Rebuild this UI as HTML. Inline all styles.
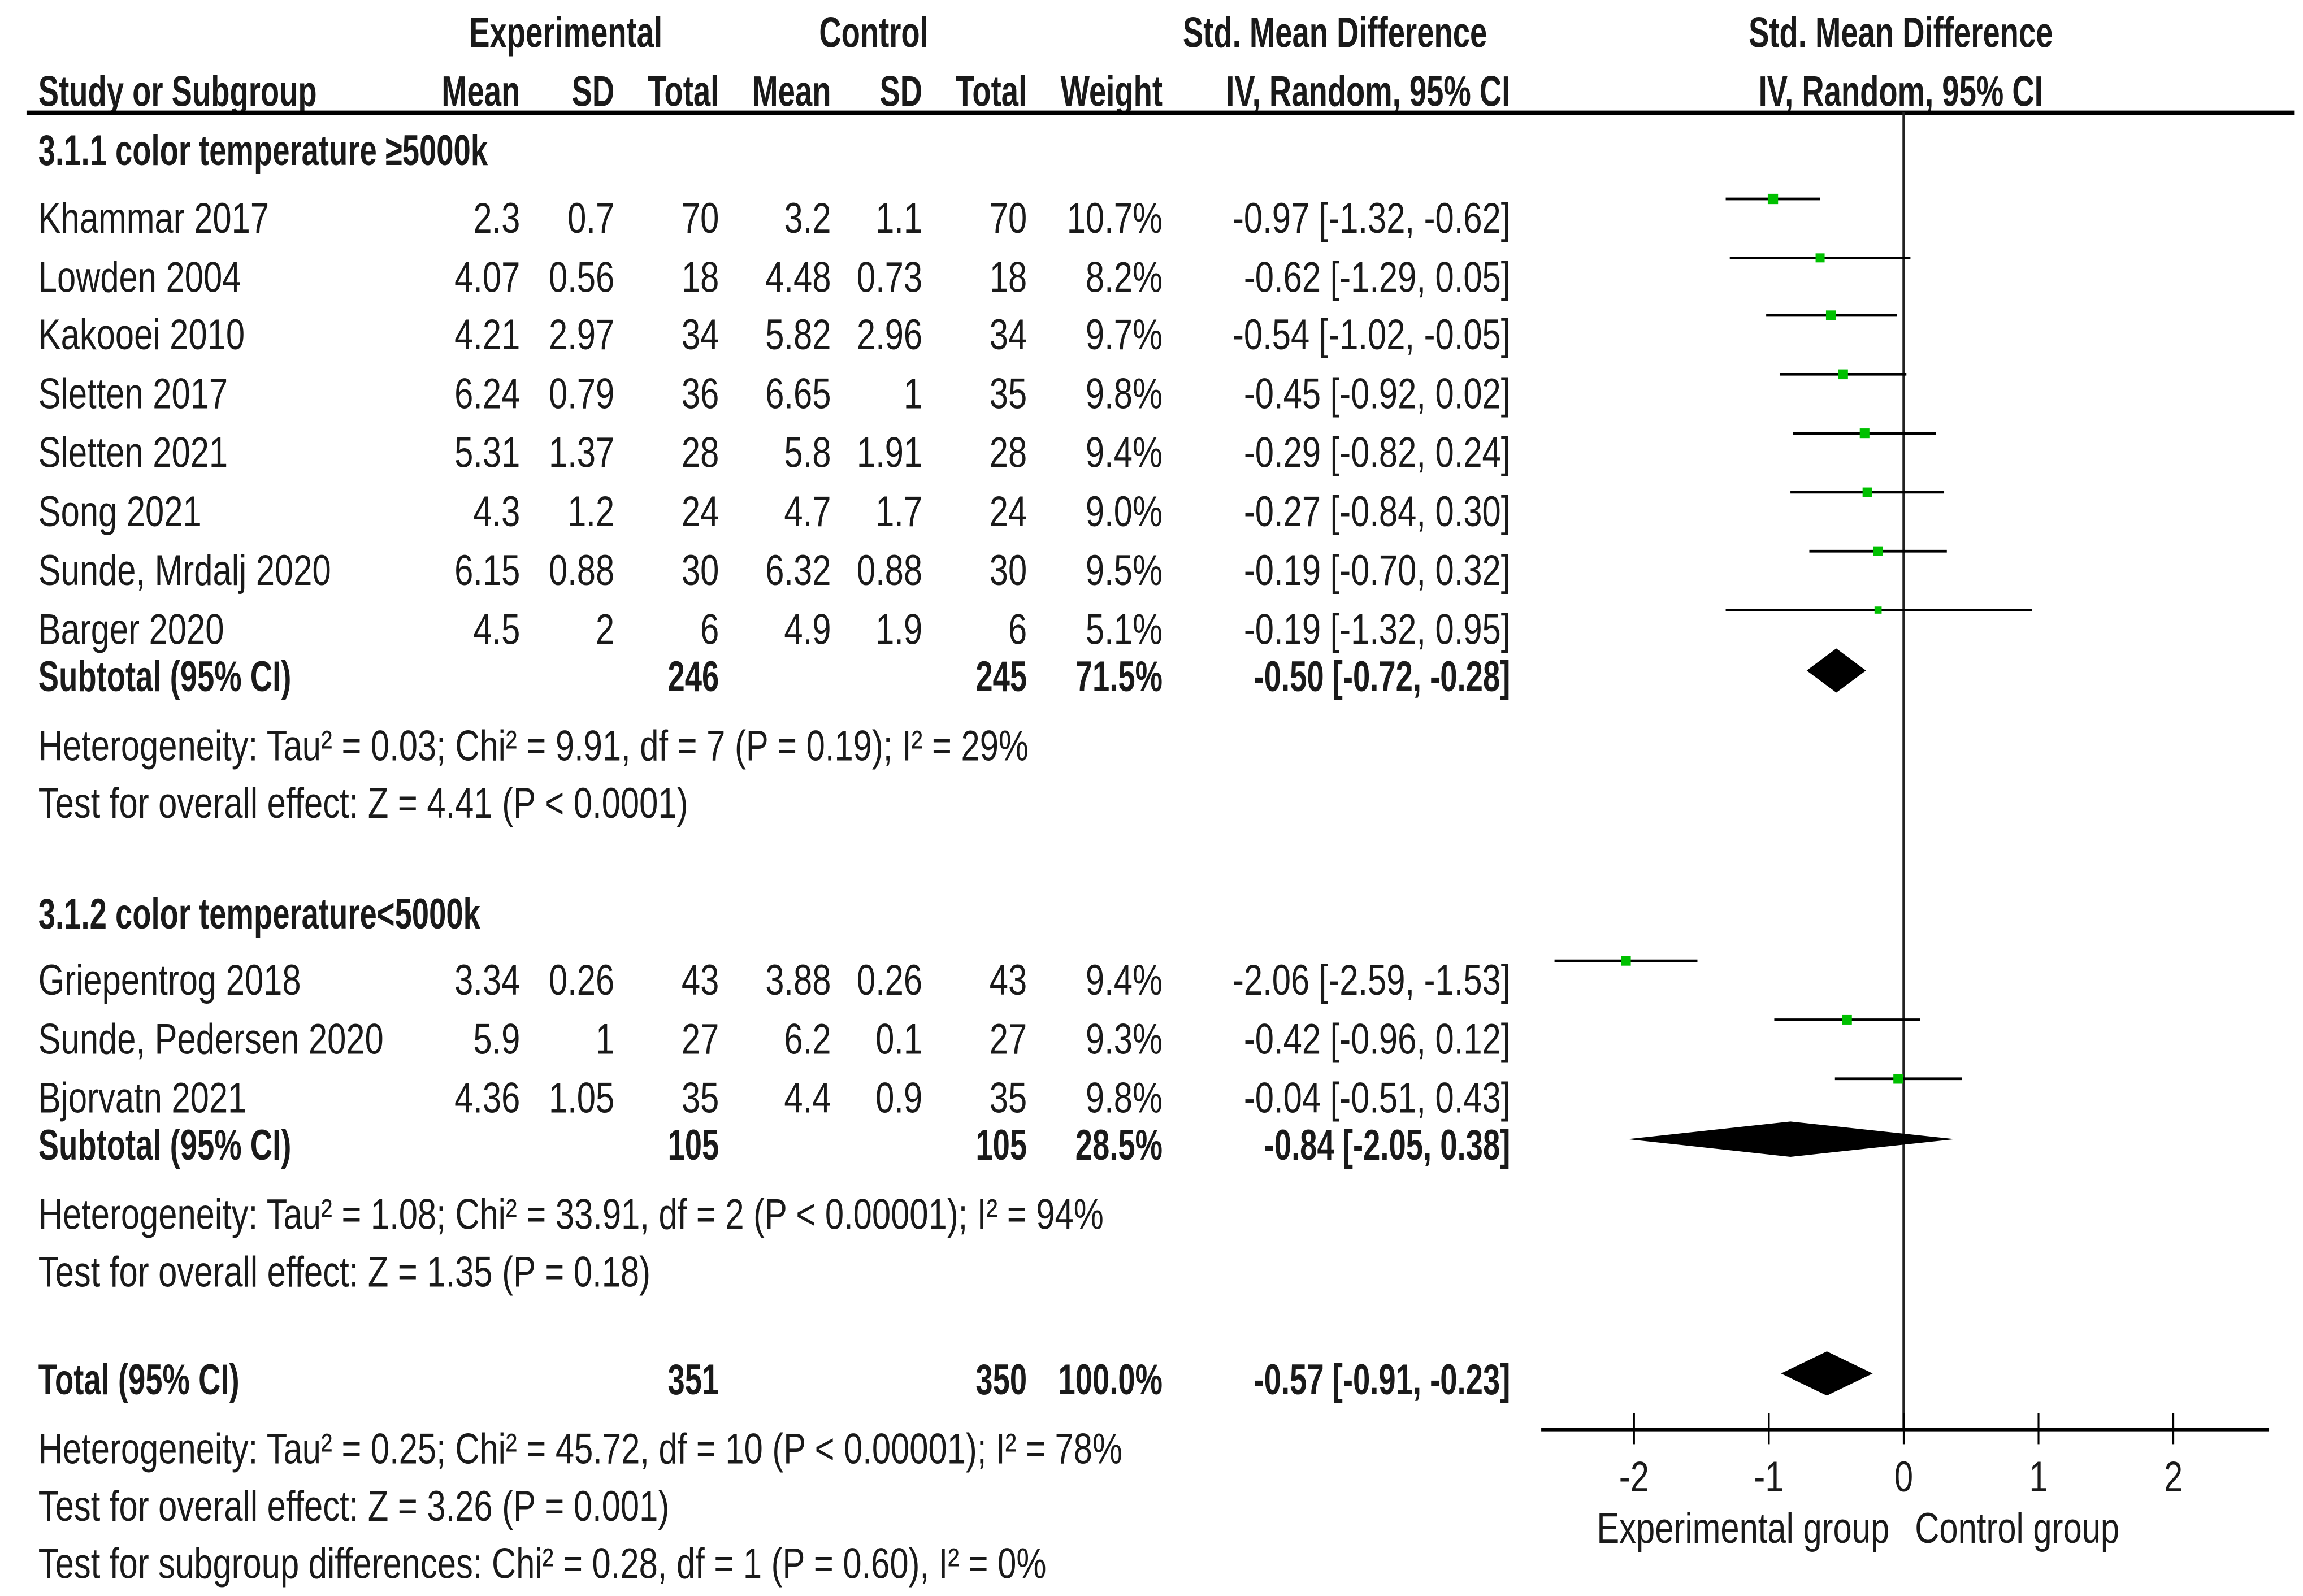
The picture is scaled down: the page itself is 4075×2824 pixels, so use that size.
<!DOCTYPE html>
<html><head><meta charset="utf-8"><style>
html,body{margin:0;padding:0;background:#fff;}
svg{display:block;}
text{font-family:"Liberation Sans","DejaVu Sans",sans-serif;fill:#1a1a1a;}
</style></head><body>
<svg id="chart" xmlns="http://www.w3.org/2000/svg" width="4075" height="2824" viewBox="0 0 1563 1083" preserveAspectRatio="none">
<g id="txt"></g>
<g id="plot"></g>
</svg>
<script>
const studies=["Khammar 2017","Lowden 2004","Kakooei 2010","Sletten 2017","Sletten 2021","Song 2021","Sunde, Mrdalj 2020","Barger 2020","Griepentrog 2018","Sunde, Pedersen 2020","Bjorvatn  2021"];
const expMean=["2.3","4.07","4.21","6.24","5.31","4.3","6.15","4.5","3.34","5.9","4.36"];
const expSD=["0.7","0.56","2.97","0.79","1.37","1.2","0.88","2","0.26","1","1.05"];
const expN=["70","18","34","36","28","24","30","6","43","27","35"];
const ctlMean=["3.2","4.48","5.82","6.65","5.8","4.7","6.32","4.9","3.88","6.2","4.4"];
const ctlSD=["1.1","0.73","2.96","1","1.91","1.7","0.88","1.9","0.26","0.1","0.9"];
const ctlN=["70","18","34","35","28","24","30","6","43","27","35"];
const weights=[10.7,8.2,9.7,9.8,9.4,9.0,9.5,5.1,9.4,9.3,9.8];
const smd=[-0.97,-0.62,-0.54,-0.45,-0.29,-0.27,-0.19,-0.19,-2.06,-0.42,-0.04];
const lo=[-1.32,-1.29,-1.02,-0.92,-0.82,-0.84,-0.70,-1.32,-2.59,-0.96,-0.51];
const hi=[-0.62,0.05,-0.05,0.02,0.24,0.30,0.32,0.95,-1.53,0.12,0.43];
const rowY=[147,187,226,266,306,346,386,426,664,704,744];
const pooledLabels=["Subtotal (95% CI)","Subtotal (95% CI)","Total (95% CI)"];
const pooledEst=[-0.50,-0.84,-0.57];
const pooledLo=[-0.72,-2.05,-0.91];
const pooledHi=[-0.28,0.38,-0.23];
const pooledExpN=["246","105","351"];
const pooledCtlN=["245","105","350"];
const pooledW=["71.5%","28.5%","100.0%"];
const pooledY=[455,773,932];
const ticks=[-2,-1,0,1,2];

const NS="http://www.w3.org/2000/svg";
const T=document.getElementById('txt'), P=document.getElementById('plot');
function mk(tag,attrs,parent){const e=document.createElementNS(NS,tag);for(const k in attrs)e.setAttribute(k,attrs[k]);parent.appendChild(e);return e;}
function t(str,x,y,anchor,bold,name,sx){
  const e=mk('text',{x:0,y:0,'text-anchor':anchor,'font-size':29,transform:`translate(${x},${y}) scale(${sx||(bold?0.72:0.79)},1)`},T);
  if(bold)e.setAttribute('font-weight','bold');
  e.textContent=str;
  
  
  return e;
}
function fmt(v){return (v<0?'-':'')+Math.abs(v).toFixed(2);}
const X=v=>1292+v*91.5;

// headers
t("Experimental",384,32,'middle',true,'experimental-header');
t("Control",593,32,'middle',true,'control-header');
t("Std. Mean Difference",906,32,'middle',true,'smd-header');
t("Std. Mean Difference",1290,32,'middle',true,'plot-header');
t("Study or Subgroup",26,72,'start',true,'study-column-header');
const hc=[["Mean",353],["SD",417],["Total",488],["Mean",564],["SD",626],["Total",697],["Weight",789]];
hc.forEach((h,i)=>t(h[0],h[1],72,'end',true,'column-header-'+h[0].toLowerCase()));
t("IV, Random, 95% CI",1025,72,'end',true,'ci-column-header');
t("IV, Random, 95% CI",1290,72,'middle',true,'plot-method-header');
const hl=mk('line',{x1:18,x2:1557,y1:76.5,y2:76.5,stroke:'#000','stroke-width':3},P);



t("3.1.1 color temperature \u22655000k",26,112,'start',true,'subgroup-1-title');
t("3.1.2 color temperature<5000k",26,630,'start',true,'subgroup-2-title');

// zero line
const zl=mk('line',{x1:X(0),x2:X(0),y1:76,y2:970,stroke:'#222','stroke-width':1.7},P);



studies.forEach((s,i)=>{
  const y=rowY[i], b=y+11;
  t(s,26,b,'start',false,'study-name');
  t(expMean[i],353,b,'end',false,'exp-mean');
  t(expSD[i],417,b,'end',false,'exp-sd');
  t(expN[i],488,b,'end',false,'exp-total');
  t(ctlMean[i],564,b,'end',false,'ctl-mean');
  t(ctlSD[i],626,b,'end',false,'ctl-sd');
  t(ctlN[i],697,b,'end',false,'ctl-total');
  t(weights[i].toFixed(1)+'%',789,b,'end',false,'weight');
  t(`${fmt(smd[i])} [${fmt(lo[i])}, ${fmt(hi[i])}]`,1025,b,'end',false,'ci-text');
  const ln=mk('line',{x1:X(lo[i]),x2:X(hi[i]),y1:y-12,y2:y-12,stroke:'#000','stroke-width':1.8},P);
  
  
  const sz=7*Math.sqrt(weights[i]/10.7);
  const sq=mk('rect',{x:X(smd[i])-sz/2,y:y-12-sz/2,width:sz,height:sz,fill:'#00c000'},P);
  
  
});

pooledLabels.forEach((l,i)=>{
  const y=pooledY[i], b=y+14;
  t(l,26,b,'start',true,'pooled-label');
  t(pooledExpN[i],488,b,'end',true,'pooled-exp-total');
  t(pooledCtlN[i],697,b,'end',true,'pooled-ctl-total');
  t(pooledW[i],789,b,'end',true,'pooled-weight');
  t(`${fmt(pooledEst[i])} [${fmt(pooledLo[i])}, ${fmt(pooledHi[i])}]`,1025,b,'end',true,'pooled-ci-text');
  const h=i==1?12:15;
  const d=mk('polygon',{points:`${X(pooledLo[i])},${y} ${X(pooledEst[i])},${y-h} ${X(pooledHi[i])},${y} ${X(pooledEst[i])},${y+h}`,fill:'#000'},P);
  
  
});

t("Heterogeneity: Tau\u00b2 = 0.03; Chi\u00b2 = 9.91, df = 7 (P = 0.19); I\u00b2 = 29%",26,516,'start',false,'heterogeneity-1');
t("Test for overall effect: Z = 4.41 (P < 0.0001)",26,555,'start',false,'overall-effect-1');
t("Heterogeneity: Tau\u00b2 = 1.08; Chi\u00b2 = 33.91, df = 2 (P < 0.00001); I\u00b2 = 94%",26,834,'start',false,'heterogeneity-2');
t("Test for overall effect: Z = 1.35 (P = 0.18)",26,873,'start',false,'overall-effect-2');
t("Heterogeneity: Tau\u00b2 = 0.25; Chi\u00b2 = 45.72, df = 10 (P < 0.00001); I\u00b2 = 78%",26,993,'start',false,'heterogeneity-total');
t("Test for overall effect: Z = 3.26 (P = 0.001)",26,1032,'start',false,'overall-effect-total');
t("Test for subgroup differences: Chi\u00b2 = 0.28, df = 1 (P = 0.60), I\u00b2 = 0%",26,1071,'start',false,'subgroup-differences');

// axis
const ax=mk('line',{x1:1046,x2:1540,y1:970,y2:970,stroke:'#000','stroke-width':2.5},P);


ticks.forEach(v=>{
  const tk=mk('line',{x1:X(v),x2:X(v),y1:959,y2:980,stroke:'#000','stroke-width':1.2},P);
  
  
  t(String(v).replace('-','-'),X(v),1012,'middle',false,'x-tick-label');
});
t("Experimental group",1183,1047,'middle',false,'favours-experimental-label');
t("Control group",1369,1047,'middle',false,'favours-control-label');
</script>
</body></html>
